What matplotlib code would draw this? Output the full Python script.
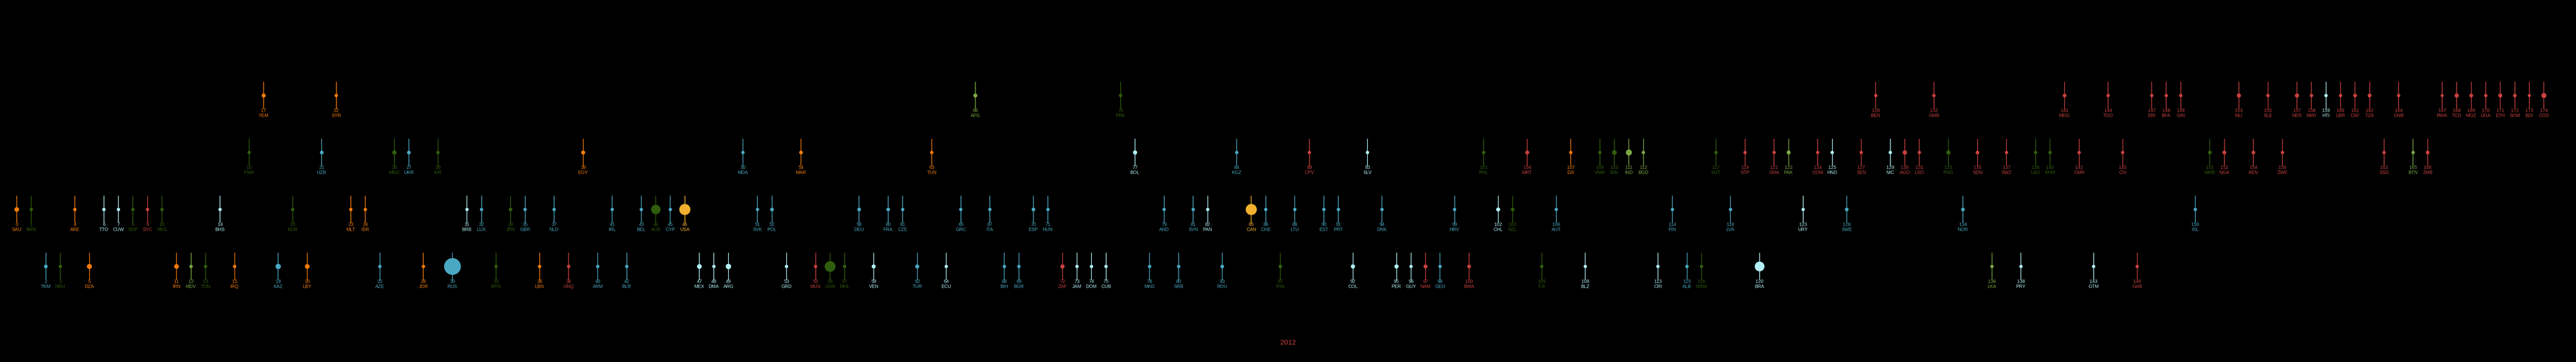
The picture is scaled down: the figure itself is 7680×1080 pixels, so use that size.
import matplotlib
matplotlib.use('Agg')
import matplotlib.pyplot as plt

# country codes in rank order (rank = position in list)
codes = ['SAU', 'BRN', 'TKM', 'NRU', 'ARE', 'DZA', 'TTO', 'CUW', 'SGP', 'SYC',
         'HKG', 'IRN', 'MDV', 'TON', 'BHS', 'IRQ', 'FSM', 'YEM', 'KAZ', 'KOR',
         'LBY', 'UZB', 'SYR', 'MLT', 'ISR', 'AZE', 'MNG', 'UKR', 'JOR', 'KIR',
         'RUS', 'BRB', 'LUX', 'MYS', 'JPN', 'GBR', 'LBN', 'NLD', 'GNQ', 'EGY',
         'ARM', 'IRL', 'BLR', 'BEL', 'AUS', 'CYP', 'USA', 'MEX', 'DMA', 'ARG',
         'MDA', 'SVK', 'POL', 'GRD', 'MAR', 'MUS', 'CHN', 'MHL', 'DEU', 'VEN',
         'FRA', 'CZE', 'TUR', 'TUN', 'ECU', 'GRC', 'AFG', 'ITA', 'BIH', 'BGR',
         'ESP', 'HUN', 'ZAF', 'JAM', 'DOM', 'CUB', 'PRK', 'BOL', 'MKD', 'AND',
         'SRB', 'SVN', 'PAN', 'ROU', 'KGZ', 'CAN', 'CHE', 'THA', 'LTU', 'CPV',
         'EST', 'PRT', 'COL', 'SLV', 'DNK', 'PER', 'GUY', 'NAM', 'GEO', 'HRV',
         'BWA', 'PHL', 'CHL', 'NZL', 'MRT', 'FJI', 'AUT', 'DJI', 'BLZ', 'VNM',
         'IDN', 'IND', 'BGD', 'CRI', 'FIN', 'ALB', 'WSM', 'VUT', 'LVA', 'STP',
         'BRA', 'GHA', 'PAK', 'URY', 'COM', 'HND', 'SWE', 'SEN', 'BEN', 'NIC',
         'AGO', 'LSO', 'GMB', 'PNG', 'NOR', 'SDN', 'LKA', 'SWZ', 'PRY', 'LAO',
         'KHM', 'MDG', 'CMR', 'GTM', 'TGO', 'CIV', 'GAB', 'ERI', 'BFA', 'GIN',
         'ISL', 'MMR', 'NGA', 'MLI', 'KEN', 'SLE', 'ZWE', 'NER', 'MWI', 'HTI',
         'LBR', 'CAF', 'TZA', 'SSD', 'GNB', 'BTN', 'ZMB', 'RWA', 'TCD', 'MOZ',
         'UGA', 'ETH', 'SOM', 'BDI', 'COD']

# region of each country
# M = Middle East & N. Africa, N = North America, E = East Asia & Pacific,
# C = Europe & Central Asia, L = Latin America, A = Sub-Saharan Africa, S = South Asia
regions = list('MECEMMLLEA' 'EMSELMEMCE' 'MCMMMCECME' 'CLCEECMCAM'
               'CCCCECNLLL' 'CCCLMAEECL' 'CCCMLCSCCC' 'CCALLLELCC'
               'CCLCCNCECA' 'CCLLCLLACC' 'AELEAECMLE' 'ESSLCCEECA'
               'LASLALCAAL' 'AAAECASALE' 'EAALAAAAAA' 'CEAAAAAAAL'
               'AAAAASAAAA' 'AAAAA')

# income group row: 0 low, 1 lower middle, 2 high, 3 upper middle
income = [2, 2, 3, 3, 2, 3, 2, 2, 2, 2,
          2, 3, 3, 3, 2, 3, 1, 0, 3, 2,
          3, 1, 0, 2, 2, 3, 1, 1, 3, 1,
          3, 2, 2, 3, 2, 2, 3, 2, 3, 1,
          3, 2, 3, 2, 2, 2, 2, 3, 3, 3,
          1, 2, 2, 3, 1, 3, 3, 3, 2, 3,
          2, 2, 3, 1, 3, 2, 0, 2, 3, 3,
          2, 2, 3, 3, 3, 3, 0, 1, 3, 2,
          3, 2, 2, 3, 1, 2, 2, 3, 2, 1,
          2, 2, 3, 1, 2, 3, 3, 3, 3, 2,
          3, 1, 2, 2, 1, 3, 2, 1, 3, 1,
          1, 1, 1, 3, 2, 3, 3, 1, 2, 1,
          3, 1, 1, 2, 1, 1, 2, 1, 0, 1,
          1, 1, 0, 1, 2, 1, 3, 1, 3, 1,
          1, 0, 1, 3, 0, 1, 3, 0, 0, 0,
          2, 1, 1, 0, 1, 0, 1, 0, 0, 0,
          0, 0, 0, 1, 0, 1, 1, 0, 0, 0,
          0, 0, 0, 0, 0]

# marker diameter (px), 10 for the ordinary ones
big = {'SAU': 14, 'DZA': 15, 'IRN': 14, 'YEM': 12, 'KAZ': 16, 'LBY': 14, 'MNG': 13,
       'UZB': 11, 'UKR': 11, 'TKM': 11, 'RUS': 50, 'EGY': 12, 'JPN': 11, 'AUS': 28,
       'USA': 33, 'MEX': 14, 'ARG': 16, 'MAR': 11, 'POL': 11, 'DEU': 11, 'FRA': 11,
       'CHN': 32, 'VEN': 12, 'TUR': 12, 'AFG': 12, 'ESP': 11, 'ZAF': 12.5, 'BOL': 12.5,
       'ROU': 11, 'CAN': 33, 'THA': 11, 'COL': 12.5, 'PER': 12.5, 'MRT': 12, 'IDN': 14,
       'IND': 18, 'CHL': 12, 'NZL': 11, 'NAM': 12, 'BWA': 11, 'PAK': 12, 'SWE': 11,
       'BRA': 29, 'AGO': 13, 'PNG': 12.5, 'TCD': 12.7, 'MOZ': 11.3, 'ETH': 12,
       'SOM': 10.7, 'COD': 15.3, 'ZMB': 11.3, 'RWA': 9.3, 'BDI': 9.3,
       'MLI': 12.5, 'NER': 12.5, 'TZA': 11.5, 'NGA': 11.5, 'MDG': 11, 'KEN': 11,
       'CAF': 11, 'MMR': 11, 'NOR': 11, 'SDN': 11}
sizes = [big.get(c, 10) for c in codes]

year = '2012'

colors = {'M': '#f47c0c', 'N': '#f2b02e', 'E': '#2f5d0b', 'C': '#4aa8c2',
          'L': '#b1eff5', 'A': '#c8413f', 'S': '#7ba845'}

DPI = 100
fig = plt.figure(figsize=(76.8, 10.8), dpi=DPI, facecolor='black')
ax = fig.add_axes([0, 0, 1, 1])
ax.set_facecolor('black')
ax.axis('off')

# 43.3 px per rank, first stem at 50 px; rows 170 px apart starting at 285 px
ax.set_xlim(-50 / 43.3, (7680 - 50) / 43.3)
ax.set_ylim((1080 - 285) / 170, -285 / 170)

ranks = list(range(len(codes)))
cols = [colors[r] for r in regions]

ax.vlines(ranks, [i - 0.24 for i in income], [i + 0.235 for i in income],
          colors=cols, linewidth=1.5, zorder=1)
ax.scatter(ranks, income, s=[(d * 72 / DPI) ** 2 for d in sizes], c=cols,
           linewidths=0, zorder=2)

for r, code, row, col in zip(ranks, codes, income, cols):
    ax.annotate(str(r), (r, row), xytext=(0, -45 * 72 / DPI), textcoords='offset points',
                ha='center', va='center', color=col, fontsize=10, family='Liberation Sans')
    ax.annotate(code, (r, row), xytext=(0, -60 * 72 / DPI), textcoords='offset points',
                ha='center', va='center', color=col, fontsize=10, family='Liberation Sans')

fig.text(0.5, 1 - 1023 / 1080, year, ha='center', va='center', color='#c8413f',
         fontsize=15, family='Liberation Sans')

fig.savefig('out.png', dpi=DPI, facecolor='black')
